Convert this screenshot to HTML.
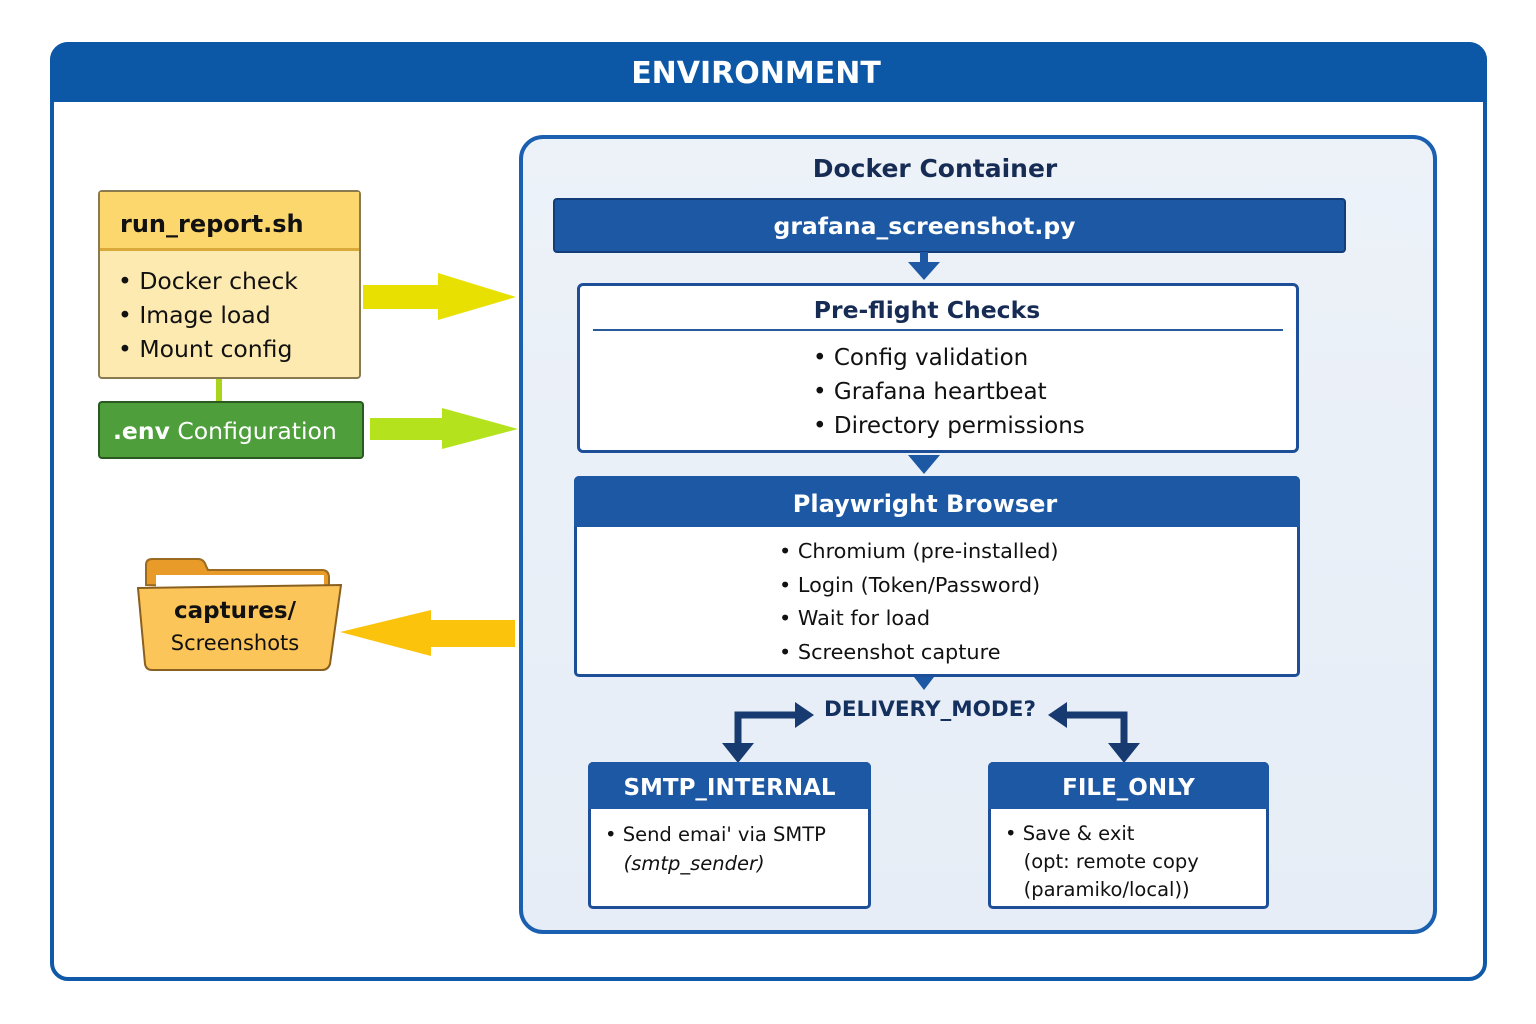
<!DOCTYPE html>
<html><head><meta charset="utf-8"><style>
body{margin:0;width:1536px;height:1024px;background:#fff;position:relative;overflow:hidden;font-family:"DejaVu Sans","Liberation Sans",sans-serif}
.a{position:absolute;box-sizing:border-box}
.t{position:absolute;white-space:nowrap}
</style></head><body>
<div class="a" style="left:50px;top:42px;width:1437px;height:939px;border:4px solid #0f59a8;border-radius:18px;background:#fff"></div>
<div class="a" style="left:50px;top:42px;width:1437px;height:60px;background:#0d58a6;border-radius:18px 18px 0 0"></div>
<div class="t" style="left:50px;width:1412px;top:56px;text-align:center;color:#fff;font-weight:bold;font-size:30px">ENVIRONMENT</div>

<div class="a" style="left:519px;top:135px;width:918px;height:799px;border:4px solid #1a5fb0;border-radius:24px;background:linear-gradient(#edf2f9,#e6edf6)"></div>
<div class="t" style="left:519px;width:832px;top:154px;text-align:center;color:#172c55;font-weight:bold;font-size:25px">Docker Container</div>
<div class="a" style="left:553px;top:198px;width:793px;height:55px;background:#1c58a4;border:2px solid #123d78;border-radius:4px"></div>
<div class="t" style="left:553px;width:743px;top:212px;text-align:center;color:#fff;font-weight:bold;font-size:23.5px">grafana_screenshot.py</div>

<svg class="a" style="left:0;top:0" width="1536" height="1024">
<rect x="920" y="252" width="8" height="12" fill="#1c58a4"/><polygon points="908,262 940,262 924,280" fill="#1c58a4"/>
<polygon points="908,455 940,455 924,474" fill="#1c58a4"/>
<polygon points="914,677 934,677 924,690" fill="#1c58a4"/>
<polyline points="738,748 738,715 795,715" fill="none" stroke="#173a70" stroke-width="7"/>
<polygon points="795,702 795,728 814,715" fill="#173a70"/>
<polygon points="722,743 754,743 738,763" fill="#173a70"/>
<polyline points="1066,715 1124,715 1124,748" fill="none" stroke="#173a70" stroke-width="7"/>
<polygon points="1067,702 1067,728 1048,715" fill="#173a70"/>
<polygon points="1108,743 1140,743 1124,763" fill="#173a70"/>
<rect x="363" y="285" width="80" height="24" fill="#e8e000"/><polygon points="438,273 516,297 438,320" fill="#e8e000"/>
<rect x="370" y="418" width="76" height="22" fill="#b4e31e"/><polygon points="442,408 518,429 442,449" fill="#b4e31e"/>
<rect x="428" y="620" width="87" height="27" fill="#fcc30d"/><polygon points="431,610 340,632 431,656" fill="#fcc30d"/>
<rect x="216" y="378" width="6" height="24" fill="#a8d41c"/>
<path d="M146,585 L146,565 Q146,559 152,559 L198,559 Q204,559 206,566 L208,570 L322,570 Q329,570 329,578 L329,590 Z" fill="#e99b2a" stroke="#9a6a20" stroke-width="2"/>
<rect x="156" y="575" width="168" height="14" fill="#fff"/>
<path d="M138,588 L341,585 L330,664 Q328,670 322,670 L152,670 Q146,670 145,664 Z" fill="#fcc55a" stroke="#8a6020" stroke-width="2"/>
</svg>

<div class="a" style="left:577px;top:283px;width:722px;height:170px;background:#fff;border:3px solid #1d4f98;border-radius:6px"></div>
<div class="t" style="left:577px;width:700px;top:296px;text-align:center;color:#172c55;font-weight:bold;font-size:23.5px">Pre-flight Checks</div>
<div class="a" style="left:593px;top:329px;width:690px;height:2px;background:#2a5a9e"></div>
<div class="t" style="left:813px;top:341px;color:#111;font-size:23px;line-height:34px">• Config validation<br>• Grafana heartbeat<br>• Directory permissions</div>

<div class="a" style="left:574px;top:476px;width:726px;height:201px;background:#fff;border:3px solid #1d4f98;border-radius:5px"></div>
<div class="a" style="left:574px;top:476px;width:726px;height:51px;background:#1c58a4;border-radius:5px 5px 0 0"></div>
<div class="t" style="left:574px;width:702px;top:490px;text-align:center;color:#fff;font-weight:bold;font-size:24px">Playwright Browser</div>
<div class="t" style="left:779px;top:535px;color:#111;font-size:20.8px;line-height:33.5px">• Chromium (pre-installed)<br>• Login (Token/Password)<br>• Wait for load<br>• Screenshot capture</div>

<div class="t" style="left:824px;top:697px;color:#14305e;font-weight:bold;font-size:21.5px">DELIVERY_MODE?</div>

<div class="a" style="left:588px;top:762px;width:283px;height:147px;background:#fff;border:3px solid #1d4f98;border-radius:5px"></div>
<div class="a" style="left:588px;top:762px;width:283px;height:47px;background:#1c58a4;border-radius:5px 5px 0 0"></div>
<div class="t" style="left:588px;width:283px;top:775px;text-align:center;color:#fff;font-weight:bold;font-size:23px">SMTP_INTERNAL</div>
<div class="t" style="left:605px;top:820px;color:#111;font-size:19.5px;line-height:29px">• Send emai' via SMTP<br>&nbsp;&nbsp;&nbsp;<i>(smtp_sender)</i></div>

<div class="a" style="left:988px;top:762px;width:281px;height:147px;background:#fff;border:3px solid #1d4f98;border-radius:5px"></div>
<div class="a" style="left:988px;top:762px;width:281px;height:47px;background:#1c58a4;border-radius:5px 5px 0 0"></div>
<div class="t" style="left:988px;width:281px;top:775px;text-align:center;color:#fff;font-weight:bold;font-size:23px">FILE_ONLY</div>
<div class="t" style="left:1005px;top:820px;color:#111;font-size:19.5px;line-height:28px">• Save &amp; exit<br>&nbsp;&nbsp;&nbsp;(opt: remote copy<br>&nbsp;&nbsp;&nbsp;(paramiko/local))</div>

<div class="a" style="left:98px;top:190px;width:263px;height:189px;background:#fdeab0;border:2px solid #8a7a50;border-radius:4px"></div>
<div class="a" style="left:100px;top:192px;width:259px;height:59px;background:#fbd76e;border-bottom:3px solid #d9a93a"></div>
<div class="t" style="left:120px;top:210px;color:#111;font-weight:bold;font-size:24px">run_report.sh</div>
<div class="t" style="left:118px;top:264px;color:#111;font-size:23.5px;line-height:34px">• Docker check<br>• Image load<br>• Mount config</div>

<div class="a" style="left:98px;top:401px;width:266px;height:58px;background:#4e9e3b;border:2px solid #2a5a20;border-radius:4px"></div>
<div class="t" style="left:113px;top:417px;color:#fff;font-size:23.5px"><b>.env</b> Configuration</div>

<div class="t" style="left:140px;width:190px;top:598px;text-align:center;color:#111;font-weight:bold;font-size:23px">captures/</div>
<div class="t" style="left:140px;width:190px;top:631px;text-align:center;color:#111;font-size:21px">Screenshots</div>
</body></html>
